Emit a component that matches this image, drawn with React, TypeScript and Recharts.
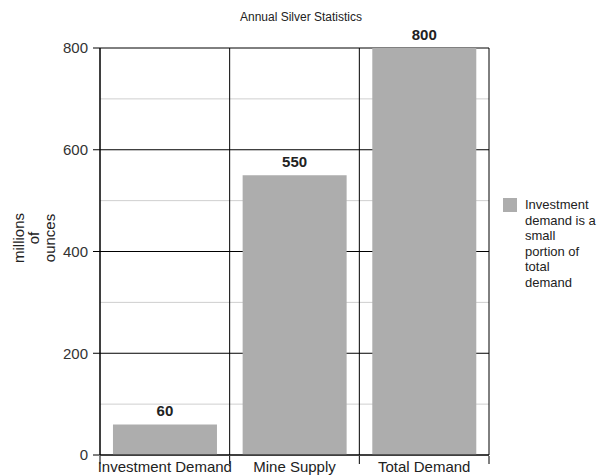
import React from 'react';
import { BarChart, Bar, XAxis, YAxis, CartesianGrid, LabelList, Legend, Label } from 'recharts';

const categories = ['Investment Demand', 'Mine Supply', 'Total Demand'];
const ounces = [60, 550, 800];
const majorTicks = [0, 200, 400, 600, 800];
const minorTicks = [100, 300, 500, 700];
const seriesName = 'Investment demand is a small portion of total demand';
const axisTitle = ['millions', 'of', 'ounces'];

const data = categories.map((name, i) => ({ name, value: ounces[i] }));

const FONT = '"Liberation Sans", Arial, sans-serif';
const BAR_COLOR = '#adadad';
const Y_MAX = majorTicks[majorTicks.length - 1];

// x tick: category text plus a small tick mark on each category boundary
const BoundaryTick = (props: any) => {
  const { x, y, payload, width, visibleTicksCount, index } = props;
  const band = width / visibleTicksCount;
  return (
    <g>
      {index === 0 && <line x1={x - band / 2} x2={x - band / 2} y1={y - 7} y2={y + 1} stroke="#000" />}
      <line x1={x + band / 2} x2={x + band / 2} y1={y - 7} y2={y + 1} stroke="#000" />
      <text x={x} y={y + 9} textAnchor="middle" fontSize={15} fill="#222" fontFamily={FONT}>
        {payload.value}
      </text>
    </g>
  );
};

const AxisTitle = () => {
  const cx = 33;
  const cy = 238;
  return (
    <text
      transform={`rotate(-90 ${cx} ${cy})`}
      textAnchor="middle"
      dominantBaseline="central"
      fontSize={15}
      fill="#222"
      fontFamily={FONT}
    >
      {axisTitle.map((line, i) => (
        <tspan key={line} x={cx} y={cy + (i - 1) * 15.5}>
          {line}
        </tspan>
      ))}
    </text>
  );
};

const LegendBox = () => (
  <div style={{ display: 'flex', alignItems: 'flex-start', fontFamily: FONT, fontSize: 13, color: '#222' }}>
    <div style={{ width: 14, height: 14, background: BAR_COLOR, marginTop: 1, flexShrink: 0 }} />
    <div style={{ width: 72, marginLeft: 8, lineHeight: '15.5px' }}>{seriesName}</div>
  </div>
);

export default function App() {
  return (
    <div style={{ position: 'absolute', left: 0, top: 0, width: 606, height: 476, background: '#fff', fontFamily: FONT }}>
      <div style={{ position: 'absolute', left: 0, width: 602, top: 10, textAlign: 'center', fontSize: 12, color: '#222' }}>
        Annual Silver Statistics
      </div>
      <BarChart
        width={606}
        height={476}
        data={data}
        margin={{ top: 48, right: 117, bottom: 0, left: 0 }}
        barCategoryGap="10%"
      >
        {/* light minor lines */}
        <CartesianGrid
          vertical={false}
          stroke="#cfcfcf"
          horizontalCoordinatesGenerator={({ offset }: any) =>
            minorTicks.map((v) => offset.top + offset.height * (1 - v / Y_MAX))
          }
        />
        {/* dark major lines and category dividers */}
        <CartesianGrid
          stroke="#000"
          verticalCoordinatesGenerator={({ offset }: any) =>
            [0, 1, 2, 3].map((i) => offset.left + (i * offset.width) / 3)
          }
        />
        <XAxis
          dataKey="name"
          height={21}
          axisLine={{ stroke: '#000' }}
          tickLine={false}
          interval={0}
          tick={<BoundaryTick />}
        />
        <YAxis
          width={100}
          domain={[0, Y_MAX]}
          ticks={majorTicks}
          axisLine={{ stroke: '#000' }}
          tickLine={{ stroke: '#000' }}
          tickSize={7}
          tickMargin={5}
          tick={{ fontSize: 15, fill: '#333', fontFamily: FONT }}
        >
          <Label content={<AxisTitle />} />
        </YAxis>
        <Legend
          layout="vertical"
          align="center"
          verticalAlign="middle"
          wrapperStyle={{ left: 503, top: 197, width: 100 }}
          content={<LegendBox />}
        />
        <Bar dataKey="value" name={seriesName} fill={BAR_COLOR} isAnimationActive={false}>
          <LabelList dataKey="value" position="top" offset={8} fontSize={15} fontWeight="bold" fill="#222" fontFamily={FONT} />
        </Bar>
      </BarChart>
    </div>
  );
}
